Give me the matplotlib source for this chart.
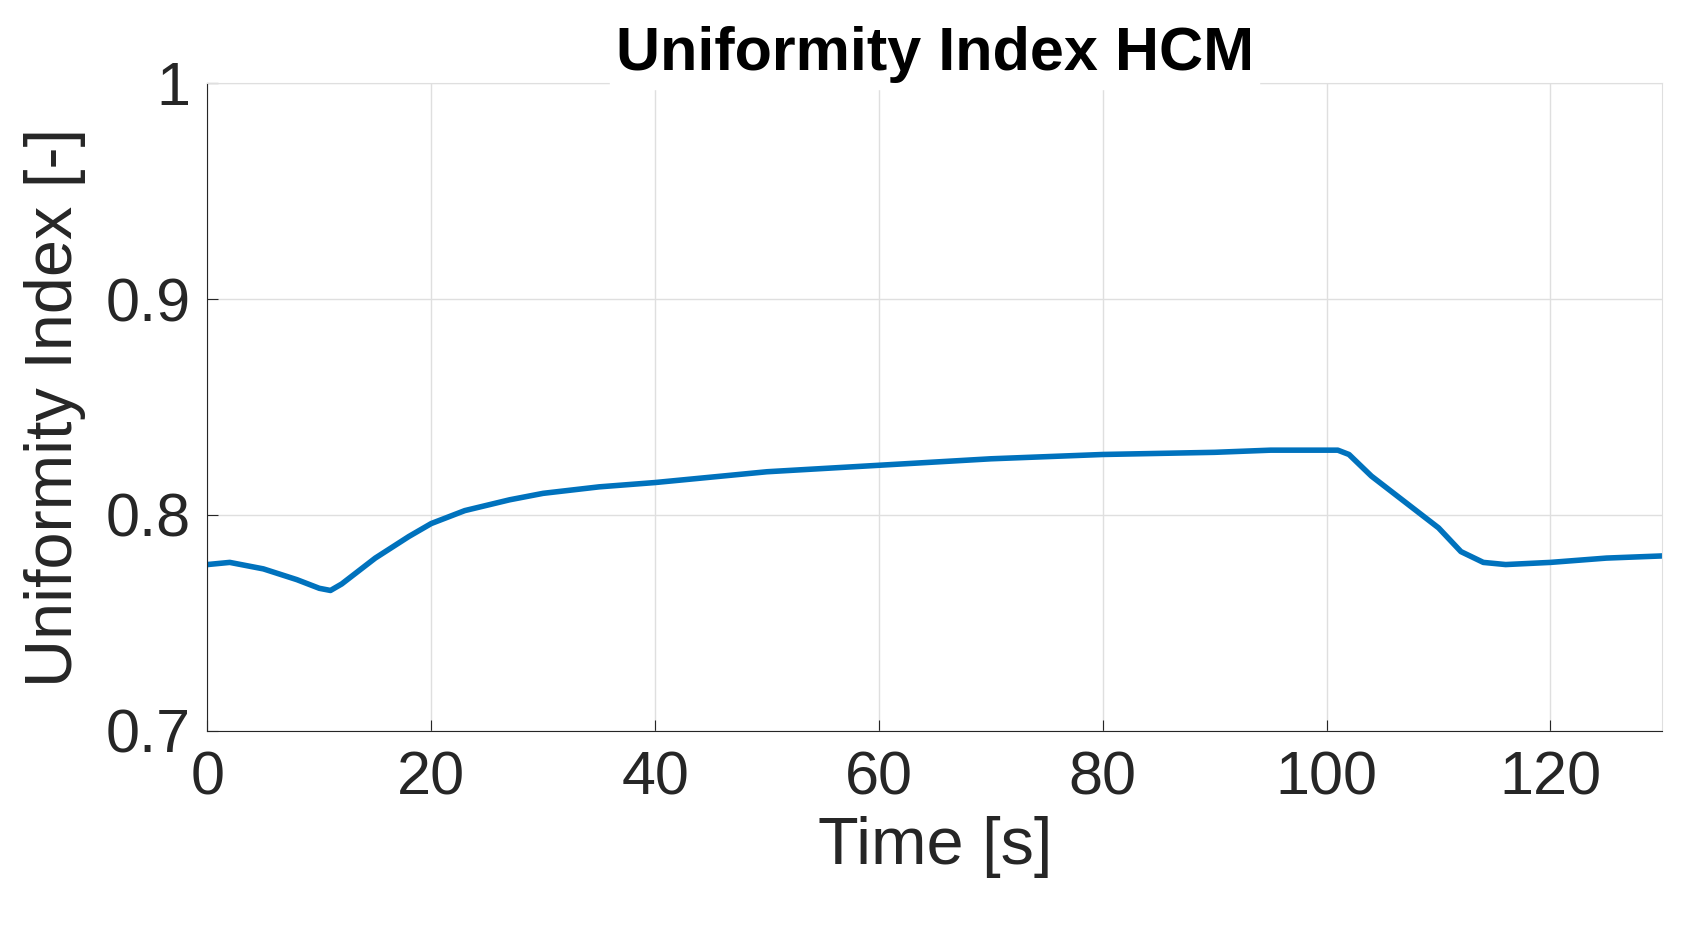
import matplotlib
matplotlib.use("Agg")
import matplotlib.pyplot as plt

t = [0, 2, 5, 8, 10, 11, 12, 15, 18, 20, 23, 27, 30, 35, 40, 50, 60, 70, 80, 90, 95, 101, 102, 104, 107, 110, 112, 114, 116, 120, 125, 130]
ui = [0.777, 0.778, 0.775, 0.770, 0.766, 0.765, 0.768, 0.780, 0.790, 0.796, 0.802, 0.807, 0.810, 0.813, 0.815, 0.820, 0.823, 0.826, 0.828, 0.829, 0.830, 0.830, 0.828, 0.818, 0.806, 0.794, 0.783, 0.778, 0.777, 0.778, 0.780, 0.781]

plt.rcParams['font.family'] = ['Liberation Sans', 'DejaVu Sans']
fig = plt.figure(figsize=(16.86, 9.25), dpi=100)
ax = fig.add_axes([0.123, 0.21, 0.863, 0.70])
ax.plot(t, ui, color='#0072BD', lw=4)
ax.set_xlim(0, 130)
ax.set_ylim(0.7, 1.0)
ax.set_xticks([0, 20, 40, 60, 80, 100, 120])
ax.set_yticks([0.7, 0.8, 0.9, 1.0])
ax.set_yticklabels(['0.7', '0.8', '0.9', '1'])
ax.grid(True, color='#DFDFDF', lw=1)
for s in ['top', 'right']:
    ax.spines[s].set_color('#DFDFDF')
for s in ['left', 'bottom']:
    ax.spines[s].set_color('#262626')
ax.tick_params(labelsize=44, colors='#262626', length=8, direction='in', top=False, right=False)
ax.tick_params(axis='x', pad=14)
ax.tick_params(axis='y', pad=12)
ax.set_xlabel('Time [s]', fontsize=48, color='#262626', labelpad=6)
ax.set_ylabel('Uniformity Index [-]', fontsize=48, color='#262626', labelpad=14)
ax.set_title('Uniformity Index HCM', fontsize=44, fontweight='bold', color='black',
             backgroundcolor='white', pad=0)
fig.savefig('out.png')
